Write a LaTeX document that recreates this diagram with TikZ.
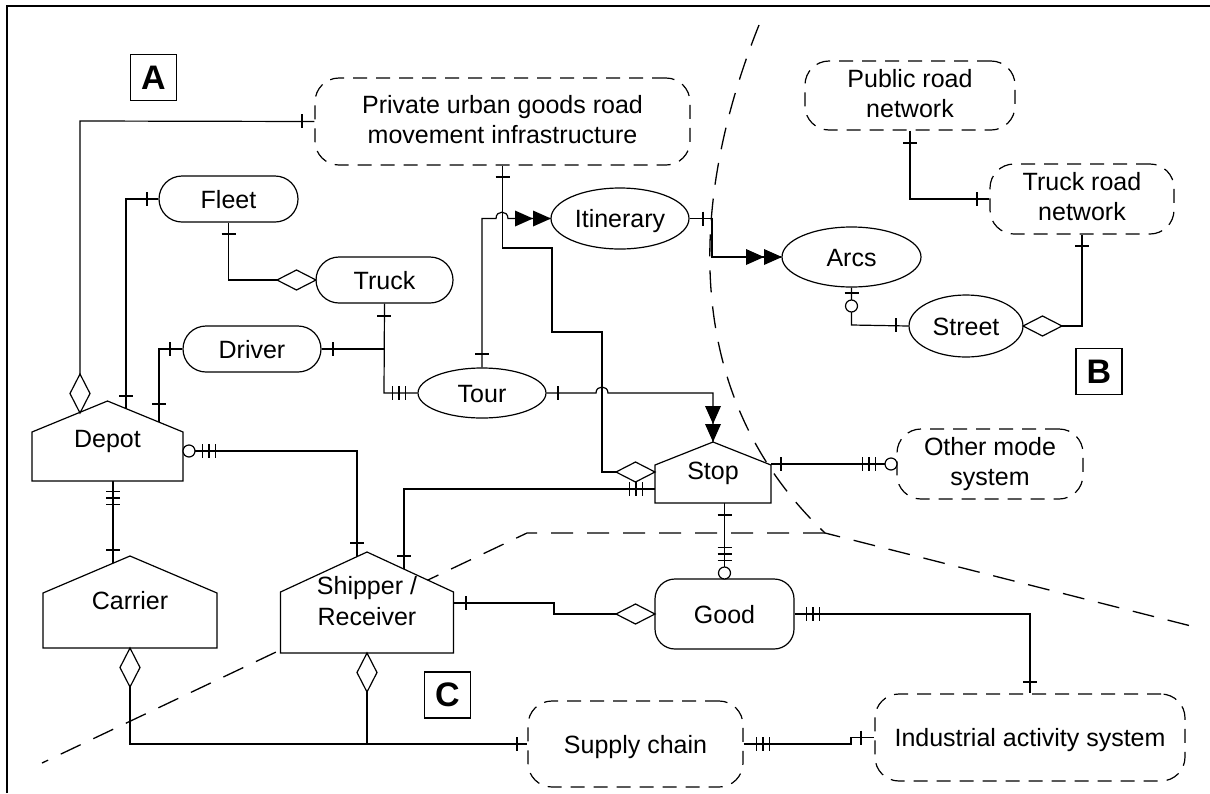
\documentclass[tikz,border=0pt]{standalone}
\usepackage{fontspec}
\setmainfont{Liberation Sans}
\usetikzlibrary{shapes.geometric}
\begin{document}
\begin{tikzpicture}[x=1pt,y=-1pt,line width=1.2pt,line join=miter,
  font=\fontsize{25}{30}\selectfont,
  stad/.style={draw,fill=white,rounded corners=23pt,minimum height=46pt,inner sep=0pt,text height=18pt,text depth=0pt},
  ell/.style={draw,fill=white,ellipse,inner sep=0pt,text height=18pt,text depth=0pt},
  dbox/.style={draw,fill=white,dash pattern=on 14pt off 9pt,rounded corners=24pt,align=center,inner sep=0pt,text height=18pt,text depth=0pt},
  twoline/.style={text height=43pt,text depth=0pt},
  region/.style={dash pattern=on 22pt off 14pt,line width=1.3pt},
  housebox/.style={draw,fill=white},
  lbl/.style={anchor=base,inner sep=0pt},
  tag/.style={draw,line width=1.5pt,minimum size=46pt,inner sep=0pt,font=\fontsize{34}{34}\bfseries\selectfont},
  hb/.pic={\draw (0,-7) -- (0,7);},
  vb/.pic={\draw (-7,0) -- (7,0);},
  hbthree/.pic={\draw (-6.5,-7) -- (-6.5,7) (0,-7) -- (0,7) (6.5,-7) -- (6.5,7);},
  vbthree/.pic={\draw (-7,-6.5) -- (7,-6.5) (-7,0) -- (7,0) (-7,6.5) -- (7,6.5);},
  hdia/.pic={\draw[fill=white] (0,0) -- (19.5,-10) -- (39,0) -- (19.5,10) -- cycle;},
  vdia/.pic={\draw[fill=white] (0,0) -- (10,19.5) -- (0,39) -- (-10,19.5) -- cycle;},
  oc/.pic={\draw[fill=white] (0,0) circle[radius=6pt];},
  tr/.pic={\fill (0,0) -- (-18,-8) -- (-18,8) -- cycle;},
  td/.pic={\fill (0,0) -- (-8,-18) -- (8,-18) -- cycle;}
]
\useasboundingbox (0,0) rectangle (1210,793);
% frame
\draw[line width=2.5pt] (7,793) -- (7,6) -- (1210,6);

% region boundaries
\draw[region] (759,25) .. controls (685,210) and (685,400) .. (825,533) -- (1195,627);
\draw[region] (825,533) -- (527,533) -- (42,763);

% entity nodes
\node[dbox,twoline,minimum width=375pt,minimum height=87pt] (private) at (502.5,121.5) {Private urban goods road\\movement infrastructure};
\node[dbox,twoline,minimum width=210pt,minimum height=69pt] (public) at (910,95.5) {Public road\\network};
\node[dbox,twoline,minimum width=184pt,minimum height=70pt] (truckroad) at (1082,199) {Truck road\\network};
\node[dbox,twoline,minimum width=186pt,minimum height=70pt] (othermode) at (990,464) {Other mode\\system};
\node[dbox,minimum width=215pt,minimum height=86pt] (supply) at (635.5,744) {Supply chain};
\node[dbox,minimum width=310pt,minimum height=87pt] (industrial) at (1030,737.5) {Industrial activity system};

\node[stad,minimum width=139pt] (fleet) at (228.5,199) {Fleet};
\node[stad,minimum width=137pt] (truck) at (384.5,280) {Truck};
\node[stad,minimum width=138pt] (driver) at (252,349) {Driver};
\node[draw,fill=white,rounded corners=20pt,minimum width=139pt,minimum height=70pt,inner sep=0pt,text height=18pt,text depth=0pt] (good) at (724.5,614) {Good};

\node[ell,minimum width=128pt,minimum height=50pt] (tour) at (482,393) {Tour};
\node[ell,minimum width=138pt,minimum height=61pt] (itinerary) at (620,218.5) {Itinerary};
\node[ell,minimum width=139pt,minimum height=60pt] (arcs) at (851.5,257) {Arcs};
\node[ell,minimum width=114pt,minimum height=62pt] (street) at (966,326) {Street};

% connectors
\draw (80,412) -- (80,121) -- (private.west);                 % Depot - Private
\draw (126,409) -- (126,199) -- (fleet.west);                 % Depot - Fleet
\draw (159,422) -- (159,349) -- (driver.west);                % Depot - Driver
\draw (fleet.south) -- (228.5,280) -- (truck.west);           % Fleet - Truck
\draw (truck.south) -- (384,393) -- (tour.west);              % Truck - Tour
\draw (driver.east) -- (384,349);                             % Driver - Tour
\draw (tour.north) -- (482,218.5) -- (496,218.5) .. controls (496,210) and (508,210) .. (508,218.5) -- (itinerary.west); % Tour - Itinerary
\draw (private.south) -- (502.5,248) -- (552,248) -- (552,332) -- (602,332) -- (602,472) -- (655,472); % Private - Stop
\draw (tour.east) -- (596,393) .. controls (596,385) and (608,385) .. (608,393) -- (713,393) -- (713,442); % Tour - Stop
\draw (itinerary.east) -- (712,218.5) -- (712,257) -- (arcs.west); % Itinerary - Arcs
\draw (arcs.south) -- (851.5,325) -- (street.west);           % Arcs - Street
\draw (street.east) -- (1082,326) -- (truckroad.south);       % Street - Truck road
\draw (public.south) -- (910,199) -- (truckroad.west);        % Public - Truck road
\draw (183,451) -- (357,451) -- (357,557);                    % Depot - Shipper
\draw (404,569) -- (404,489) -- (655,489);                    % Shipper - Stop
\draw (453.5,603) -- (554,603) -- (554,614) -- (good.west);   % Shipper - Good
\draw (724.5,503) -- (good.north);                            % Stop - Good
\draw (771,464) -- (othermode.west);                          % Stop - Other mode
\draw (good.east) -- (1030,614) -- (industrial.north);        % Good - Industrial
\draw (supply.east) -- (851,744) -- (851,737.5) -- (industrial.west); % Supply - Industrial
\draw (130,648) -- (130,744) -- (supply.west);                % Carrier - Supply
\draw (367,653) -- (367,744);                                 % Shipper - Supply
\draw (113,481) -- (113,563);                                 % Depot - Carrier

% house-shaped entities
\draw[housebox] (32,481) -- (32,432) -- (107.5,401) -- (183,432) -- (183,481) -- cycle;
\node[lbl] (depot) at (107.5,447) {Depot};
\draw[housebox] (43,648) -- (43,593) -- (130,556) -- (217,593) -- (217,648) -- cycle;
\node[lbl] (carrier) at (130,609) {Carrier};
\draw[housebox] (280.5,653) -- (280.5,592) -- (367,552) -- (453.5,592) -- (453.5,653) -- cycle;
\node[lbl] (shipper) at (367,594) {Shipper /};
\node[lbl] (receiver) at (367,625) {Receiver};
\draw[housebox] (655,503) -- (655,465) -- (713,442) -- (771,465) -- (771,503) -- cycle;
\node[lbl] (stop) at (713,479) {Stop};

% cardinality marks
\pic at (80,374) {vdia};
\pic at (302,121) {hb};
\pic at (126,396) {vb};
\pic at (147,199) {hb};
\pic at (159,404) {vb};
\pic at (170,349) {hb};
\pic at (228.5,234) {vb};
\pic at (277,280) {hdia};
\pic at (384,316) {vb};
\pic at (333,349) {hb};
\pic at (399,393) {hbthree};
\pic at (482,354) {vb};
\pic at (533,218.5) {tr};
\pic at (551,218.5) {tr};
\pic at (502.5,177) {vb};
\pic at (616,472) {hdia};
\pic at (558,393) {hb};
\pic at (713,424) {td};
\pic at (713,442) {td};
\pic at (703,218.5) {hb};
\pic at (764,257) {tr};
\pic at (782,257) {tr};
\pic at (851.5,293) {vb};
\pic at (851.5,306) {oc};
\pic at (896,325) {hb};
\pic at (1023,326) {hdia};
\pic at (1082,246) {vb};
\pic at (910,143) {vb};
\pic at (977,199) {hb};
\pic at (189,451) {oc};
\pic at (209,451) {hbthree};
\pic at (357,543) {vb};
\pic at (404,556) {vb};
\pic at (636,489) {hbthree};
\pic at (466,603) {hb};
\pic at (616,614) {hdia};
\pic at (724.5,515) {vb};
\pic at (724.5,554) {vbthree};
\pic at (724.5,573) {oc};
\pic at (781,464) {hb};
\pic at (869,464) {hbthree};
\pic at (891,464) {oc};
\pic at (813,614) {hbthree};
\pic at (1030,682) {vb};
\pic at (763,744) {hbthree};
\pic at (861,737.5) {hb};
\pic at (130,648) {vdia};
\pic at (367,653) {vdia};
\pic at (517,744) {hb};
\pic at (113,498) {vbthree};
\pic at (113,550) {vb};

% region tags
\node[tag] (tagA) at (153.5,77.5) {A};
\node[tag] (tagB) at (1099,371.5) {B};
\node[tag] (tagC) at (447.5,695) {C};
\end{tikzpicture}
\end{document}
